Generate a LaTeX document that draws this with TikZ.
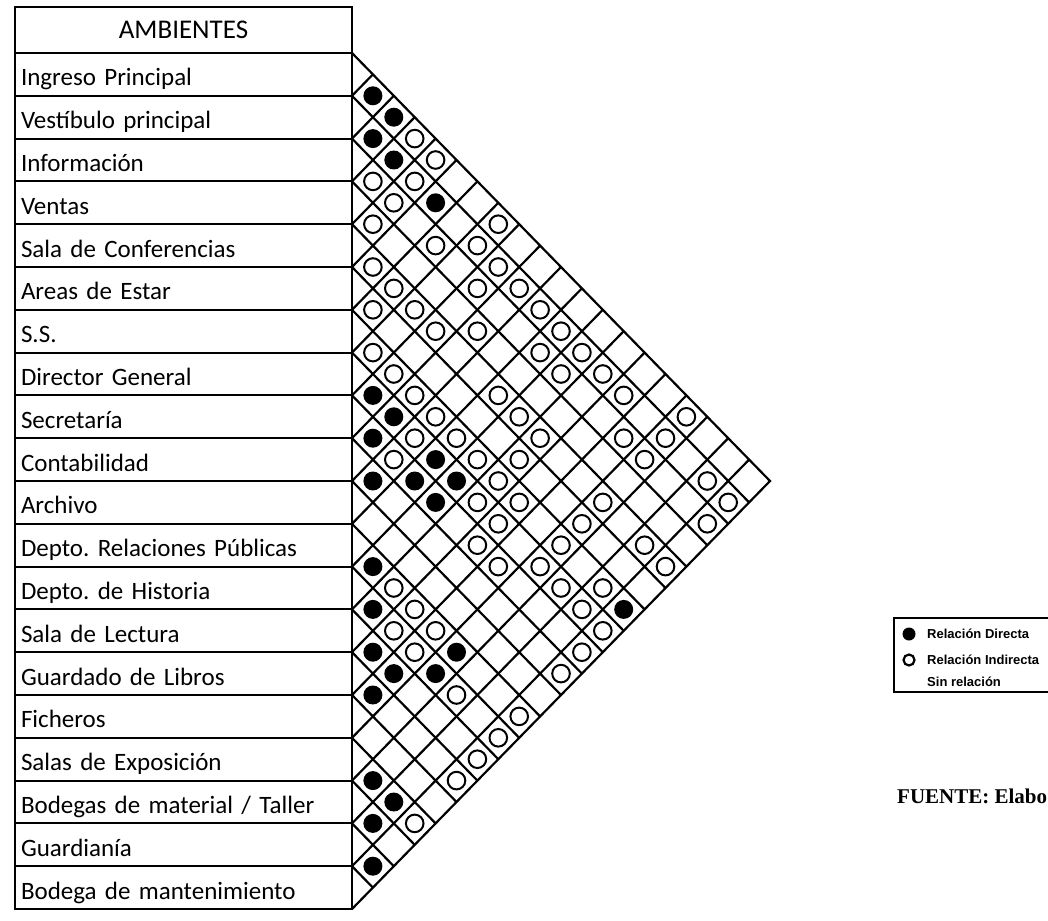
\documentclass[tikz,border=0pt]{standalone}
\usepackage{fontspec}
\setmainfont{Carlito}
\newfontfamily\legendfont{Liberation Sans}
\newfontfamily\sourcefont{Liberation Serif}
\usetikzlibrary{positioning}
\frenchspacing

\begin{document}
\begin{tikzpicture}[
    x=1pt, y=-1pt,
    ambiente/.style={
        rectangle,draw,line width=2pt,
        minimum width=337pt,
        minimum height=42.8pt,
        text width=325pt,
        align=left,
        text height=23pt, text depth=0pt,
        inner xsep=6pt, inner ysep=0pt, outer sep=0pt,
        font=\fontsize{25}{30}\selectfont
    },
    matrixline/.style={line width=2.2pt},
    directa/.style={fill=black},
    indirecta/.style={draw=black,line width=2pt},
    legendtext/.style={
        anchor=west,inner sep=0pt,
        font=\legendfont\bfseries\fontsize{13}{15}\selectfont
    }
]
\useasboundingbox (0,0) rectangle (1048,920);

\node[ambiente, anchor=north west, minimum height=46pt, align=center, text height=18pt,
      font=\fontsize{27}{30}\selectfont] (header) at (15,7) {AMBIENTES};
\node[ambiente, below=0pt of header] (ingreso) {Ingreso Principal};
\node[ambiente, below=0pt of ingreso] (vestibulo) {Vestíbulo principal};
\node[ambiente, below=0pt of vestibulo] (informacion) {Información};
\node[ambiente, below=0pt of informacion] (ventas) {Ventas};
\node[ambiente, below=0pt of ventas] (conferencias) {Sala de Conferencias};
\node[ambiente, below=0pt of conferencias] (estar) {Areas de Estar};
\node[ambiente, below=0pt of estar] (ss) {S.S.};
\node[ambiente, below=0pt of ss] (director) {Director General};
\node[ambiente, below=0pt of director] (secretaria) {Secretaría};
\node[ambiente, below=0pt of secretaria] (contabilidad) {Contabilidad};
\node[ambiente, below=0pt of contabilidad] (archivo) {Archivo};
\node[ambiente, below=0pt of archivo] (relaciones) {Depto. Relaciones Públicas};
\node[ambiente, below=0pt of relaciones] (historia) {Depto. de Historia};
\node[ambiente, below=0pt of historia] (lectura) {Sala de Lectura};
\node[ambiente, below=0pt of lectura] (guardado) {Guardado de Libros};
\node[ambiente, below=0pt of guardado] (ficheros) {Ficheros};
\node[ambiente, below=0pt of ficheros] (exposicion) {Salas de Exposición};
\node[ambiente, below=0pt of exposicion] (bodegas) {Bodegas de material / Taller};
\node[ambiente, below=0pt of bodegas] (guardiania) {Guardianía};
\node[ambiente, below=0pt of guardiania] (mantenimiento) {Bodega de mantenimiento};

% matriz de relaciones: (j-i, i+j-1)
\begin{scope}[shift={(352,53)}, x=20.9pt, y=-21.4pt]
\foreach \b in {1,...,19} {
    \draw[matrixline] (0,2*\b) -- ({20-\b},{20+\b});
    \draw[matrixline] (0,2*\b) -- (\b,\b);
}
\draw[matrixline, line join=miter] (0,0) -- (20,20) -- (0,40);

% relacion directa
\foreach \i/\j in {1/2,1/3,2/3,2/4,2/6,8/9,8/10,9/10,8/12,10/11,9/12,8/13,9/13,
                   12/13,13/14,12/17,14/15,14/16,13/17,15/16,17/18,17/19,18/19,19/20,7/20}
    \fill[directa] ({\j-\i},{\i+\j-1}) circle[radius=9.5pt];

% relacion indirecta
\foreach \i/\j in {1/4,1/5,1/8,1/17,
                   2/5,2/8,2/9,2/10,2/11,2/12,2/13,2/14,2/15,2/17,2/19,2/20,
                   3/4,3/5,3/7,3/9,3/12,3/13,3/16,3/17,3/20,
                   4/5,4/10,
                   5/6,5/7,5/8,5/9,5/12,5/13,5/14,5/17,5/19,5/20,
                   6/7,6/14,6/17,
                   7/8,7/9,7/10,7/11,7/12,7/13,7/14,7/15,7/17,7/19,
                   8/11,8/14,8/15,8/17,8/18,8/19,8/20,
                   9/11,9/15,9/16,9/20,
                   10/20,
                   12/14,12/15,12/16,12/20,
                   13/15,13/16,13/18,13/20,
                   14/20,15/20,17/20}
    \draw[indirecta] ({\j-\i},{\i+\j-1}) circle[radius=8.8pt];
\end{scope}

% leyenda
\draw[line width=1.5pt] (1050,618) -- (894,618) -- (894,692) -- (1050,692);
\fill (909,634) circle[radius=6.5pt];
\draw[line width=2.2pt] (909,660) circle[radius=5.5pt];
\node[legendtext] (ldirecta) at (927,634) {Relación Directa};
\node[legendtext] (lindirecta) at (927,660) {Relación Indirecta};
\node[legendtext] (lsin) at (927,682) {Sin relación};

\node[anchor=base west, inner sep=0pt,
      font=\sourcefont\bfseries\fontsize{21}{25}\selectfont] (fuente) at (897,803) {FUENTE: Elabo};
\end{tikzpicture}
\end{document}
